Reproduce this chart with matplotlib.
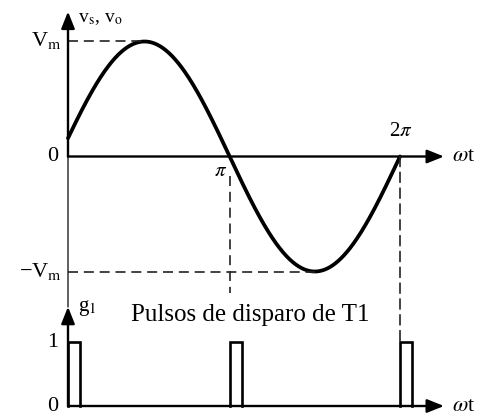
import numpy as np
import matplotlib
matplotlib.use("Agg")
import matplotlib.pyplot as plt
from matplotlib.patches import ConnectionPatch

plt.rcParams["font.family"] = ["Liberation Serif", "DejaVu Serif"]
plt.rcParams["mathtext.fontset"] = "stix"

# ---- data -------------------------------------------------------------
Vm = 1.0                                   # peak of the supply voltage
wt_start = 0.16                            # angle where the trace begins (rad)
wt_end = 2 * np.pi                         # end of one period (rad)
pulse_starts = [wt_start, np.pi, 2 * np.pi]  # firing instants of T1 (rad)
pulse_width = 0.22                         # gate pulse duration (rad)
pulse_level = 1                            # gate signal high level
ytick_labels_top = ["V$_\\mathrm{m}$", "0", "\u2212V$_\\mathrm{m}$"]
ytick_labels_bot = ["1", "0"]

wt = np.linspace(wt_start, wt_end, 600)
vs = Vm * np.sin(wt)

# ---- figure / axes ----------------------------------------------------
fig = plt.figure(figsize=(4.79, 4.19), dpi=100)
fig.patch.set_facecolor("white")
ax = fig.add_axes([0, 0, 1, 1])      # supply / output voltage
axg = fig.add_axes([0, 0, 1, 1])     # gate signal g1
for a in (ax, axg):
    a.set_axis_off()
    a.patch.set_alpha(0)

k = 332 / (wt_end - wt_start)        # pixels per radian
xlim = (wt_start - 68 / k, wt_end + 79 / k)
ax.set_xlim(*xlim)
axg.set_xlim(*xlim)
ax.set_ylim(-(419 - 156.5) / 115, 156.5 / 115)
axg.set_ylim(-13 / 64, 406 / 64)

x_tip = wt_start + 376 / k
v_tip = 1.26
g_tip = 1.55

arrow = dict(arrowstyle="-|>,head_length=0.6,head_width=0.24",
             color="black", lw=1.7, mutation_scale=17, shrinkA=0, shrinkB=0)

# thin link between both vertical axes (drawn underneath everything)
fig.add_artist(ConnectionPatch(xyA=(wt_start, 0), coordsA=ax.transData,
                               xyB=(wt_start, g_tip), coordsB=axg.transData,
                               color="#444444", lw=1.2, zorder=-1))

# axes of the voltage plot
ax.annotate("", xy=(x_tip, 0), xytext=(wt_start, 0), arrowprops=arrow)
ax.annotate("", xy=(wt_start, v_tip), xytext=(wt_start, 0), arrowprops=arrow)

# axes of the gate plot
axg.annotate("", xy=(x_tip, 0), xytext=(wt_start, 0), arrowprops=arrow)
axg.annotate("", xy=(wt_start, g_tip), xytext=(wt_start, 0), arrowprops=arrow)

# voltage waveform
ax.plot(wt, vs, color="black", lw=2.7, solid_capstyle="round")

# guide lines
dash = dict(color="#222222", lw=1.2, linestyle=(0, (6, 3.5)))
ax.plot([wt_start, np.pi / 2], [Vm, Vm], **dash)
ax.plot([wt_start, 3 * np.pi / 2], [-Vm, -Vm], **dash)
ax.plot([np.pi, np.pi], [-0.17, -1.19], **dash)
fig.add_artist(ConnectionPatch(xyA=(2 * np.pi, 0), coordsA=ax.transData,
                               xyB=(2 * np.pi, pulse_level), coordsB=axg.transData,
                               **dash))

# gate pulses
for s in pulse_starts:
    axg.plot([s, s, s + pulse_width, s + pulse_width],
             [0, pulse_level, pulse_level, 0],
             color="black", lw=1.9, solid_joinstyle="miter")

# ---- labels -----------------------------------------------------------
fs = 16
ax.annotate(ytick_labels_top[0], xy=(wt_start, Vm), xytext=(-5, 1),
            textcoords="offset points", ha="right", va="center", fontsize=fs)
ax.annotate(ytick_labels_top[1], xy=(wt_start, 0), xytext=(-7, 0),
            textcoords="offset points", ha="right", va="center", fontsize=fs)
ax.annotate(ytick_labels_top[2], xy=(wt_start, -Vm), xytext=(-4, 0),
            textcoords="offset points", ha="right", va="center", fontsize=fs)
ax.annotate("v$_\\mathrm{s}$, v$_\\mathrm{o}$", xy=(wt_start, v_tip), xytext=(7, -5),
            textcoords="offset points", ha="left", va="center", fontsize=14)
ax.annotate("$\\pi$", xy=(np.pi, 0), xytext=(-6.5, -11),
            textcoords="offset points", ha="center", va="center", fontsize=15)
ax.annotate("2$\\pi$", xy=(2 * np.pi, 0), xytext=(0.7, 18),
            textcoords="offset points", ha="center", va="center", fontsize=15)
ax.annotate("$\\omega$t", xy=(x_tip, 0), xytext=(6, 0),
            textcoords="offset points", ha="left", va="center", fontsize=16)

axg.annotate(ytick_labels_bot[0], xy=(wt_start, pulse_level), xytext=(-7, 0),
             textcoords="offset points", ha="right", va="center", fontsize=fs)
axg.annotate(ytick_labels_bot[1], xy=(wt_start, 0), xytext=(-7, 0),
             textcoords="offset points", ha="right", va="center", fontsize=fs)
axg.annotate("g$_\\mathrm{1}$", xy=(wt_start, g_tip), xytext=(7, -1),
             textcoords="offset points", ha="left", va="center", fontsize=15)
axg.annotate("$\\omega$t", xy=(x_tip, 0), xytext=(6, 0),
             textcoords="offset points", ha="left", va="center", fontsize=16)
axg.text(3.52, 1.42, "Pulsos de disparo de T1", ha="center", va="center",
         fontsize=18)

fig.savefig("out.png", dpi=100, facecolor="white")
